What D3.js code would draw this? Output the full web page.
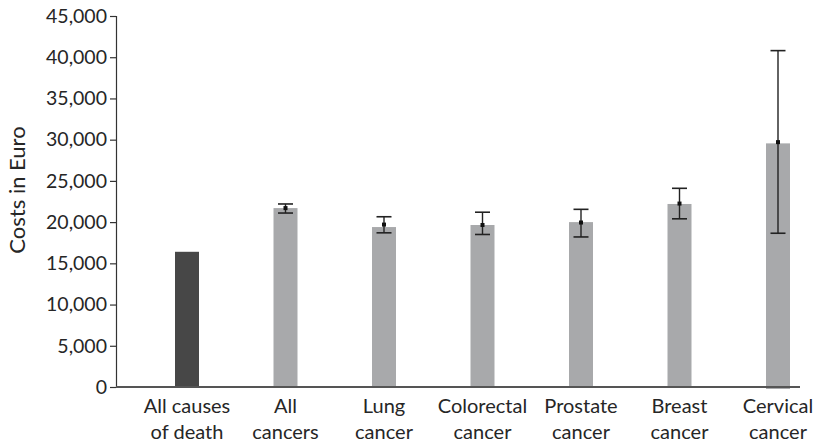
<!DOCTYPE html>
<html><head><meta charset="utf-8">
<script src="https://cdn.jsdelivr.net/npm/d3@7"></script>
<style>body{margin:0;background:#fff}svg{display:block}text{font-family:Lato,"Open Sans",sans-serif;fill:#262626}</style>
</head><body><svg id="c" width="813" height="447"></svg>
<script>
const categories = ["All causes|of death","All|cancers","Lung|cancer","Colorectal|cancer","Prostate|cancer","Breast|cancer","Cervical|cancer"];
const barValues = [16400, 21700, 19400, 19650, 20000, 22200, 29550];
const meanValues = [null, 21700, 19700, 19650, 19950, 22250, 29700];
const lowerValues = [null, 21100, 18700, 18500, 18200, 20400, 18650];
const upperValues = [null, 22200, 20650, 21200, 21550, 24100, 40800];
const yTicks = [0,5000,10000,15000,20000,25000,30000,35000,40000,45000];

const svg = d3.select("#c");
const y = d3.scaleLinear().domain([0,45000]).range([387,16]);
const x = d3.scalePoint().domain(categories).range([187,778]);
const bw = 24;

// y axis
const ya = svg.append("g").attr("transform","translate(116,0)")
  .call(d3.axisLeft(y).tickValues(yTicks).tickFormat(d3.format(",")).tickSize(6).tickPadding(3));
ya.select(".domain").attr("stroke","#333").attr("stroke-width",1.2);
ya.selectAll(".tick line").attr("stroke","#333").attr("stroke-width",1.2);
ya.selectAll(".tick text").style("font-size","19.5px").style("font-family","Lato").attr("fill","#262626");

// bars
svg.append("g").selectAll("rect").data(categories).join("rect")
  .attr("x",d=>x(d)-bw/2).attr("width",bw)
  .attr("y",(d,i)=>y(barValues[i])).attr("height",(d,i)=>y(0)-y(barValues[i]) + (i===6?2:0))
  .attr("fill",(d,i)=>i===0?"#474747":"#a8a9ab");

// x axis line
svg.append("line").attr("x1",116).attr("x2",800).attr("y1",y(0)).attr("y2",y(0))
  .attr("stroke","#555").attr("stroke-width",2);

// error bars
const eg = svg.append("g");
categories.forEach((c,i)=>{
  if(meanValues[i]==null) return;
  const cx = x(c);
  eg.append("line").attr("x1",cx).attr("x2",cx).attr("y1",y(upperValues[i])).attr("y2",y(lowerValues[i])).attr("stroke","#222").attr("stroke-width",1.4);
  [upperValues[i],lowerValues[i]].forEach(v=>{
    eg.append("line").attr("x1",cx-7.5).attr("x2",cx+7.5).attr("y1",y(v)).attr("y2",y(v)).attr("stroke","#222").attr("stroke-width",1.6);
  });
  eg.append("rect").attr("x",cx-2).attr("y",y(meanValues[i])-2).attr("width",4).attr("height",4).attr("fill","#111");
});

// x labels
const lg = svg.append("g");
categories.forEach(c=>{
  const parts = c.split("|");
  const t = lg.append("text").attr("text-anchor","middle").style("font-size","20px");
  parts.forEach((p,j)=>{
    t.append("tspan").attr("x",x(c)).attr("y",413+j*26).text(p);
  });
});

// y label
svg.append("text").attr("transform","translate(25,190) rotate(-90)").attr("text-anchor","middle")
  .style("font-size","22px").text("Costs in Euro");
</script></body></html>
